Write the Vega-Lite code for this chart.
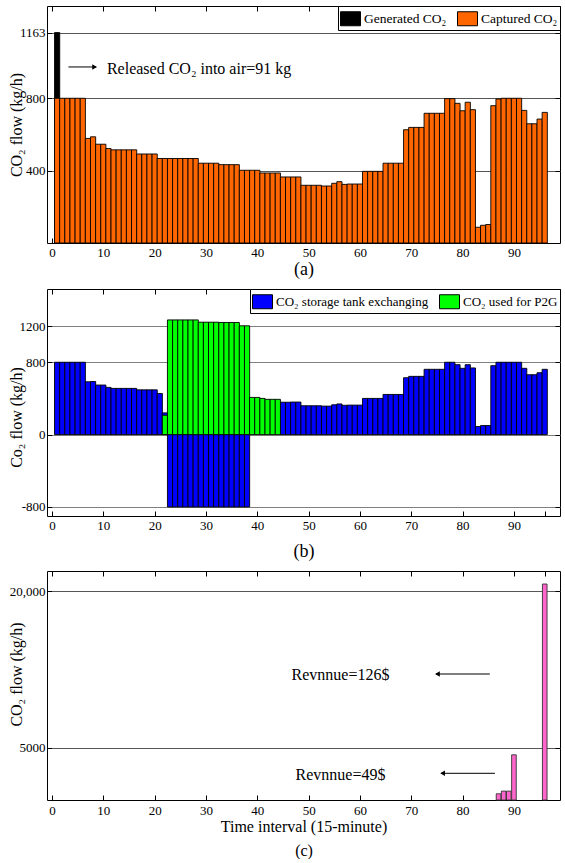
{
  "$schema": "https://vega.github.io/schema/vega-lite/v6.json",
  "padding": {"left": 7, "top": 5, "right": 0, "bottom": 0},
  "spacing": 9,
  "config": {
    "font": "Liberation Serif",
    "style": {"guide-label": {"font": "Liberation Serif"}, "guide-title": {"font": "Liberation Serif"}},
    "view": {"stroke": "black", "strokeWidth": 1},
    "axis": {"labelFont": "Liberation Serif", "titleFont": "Liberation Serif", "labelColor": "black", "titleColor": "black", "domain": false, "tickColor": "black", "tickSize": 5, "offset": -5, "labelFontSize": 13, "titleFontSize": 16, "titleFontWeight": "normal", "gridColor": "#555555", "gridOpacity": 1, "gridWidth": 1},
    "legend": {"labelFont": "Liberation Serif", "labelColor": "black", "orient": "top-right", "offset": 0, "direction": "horizontal", "title": null, "strokeColor": "black", "fillColor": "white", "padding": 2, "symbolType": "M-1,-0.7H1V0.7H-1Z", "symbolSize": 400, "symbolStrokeColor": "black", "symbolStrokeWidth": 1, "symbolOpacity": 1, "columnPadding": 8, "labelOffset": 3, "cornerRadius": 0}
  },
  "datasets": {
    "a": [
      {"t": 1, "series": "Generated CO₂", "v": 1163},
      {"t": 1, "series": "Captured CO₂", "v": 800}, {"t": 2, "series": "Captured CO₂", "v": 800}, {"t": 3, "series": "Captured CO₂", "v": 800}, {"t": 4, "series": "Captured CO₂", "v": 800}, {"t": 5, "series": "Captured CO₂", "v": 800}, {"t": 6, "series": "Captured CO₂", "v": 800},
      {"t": 7, "series": "Captured CO₂", "v": 578}, {"t": 8, "series": "Captured CO₂", "v": 587}, {"t": 9, "series": "Captured CO₂", "v": 546}, {"t": 10, "series": "Captured CO₂", "v": 546},
      {"t": 11, "series": "Captured CO₂", "v": 522}, {"t": 12, "series": "Captured CO₂", "v": 515}, {"t": 13, "series": "Captured CO₂", "v": 515}, {"t": 14, "series": "Captured CO₂", "v": 515}, {"t": 15, "series": "Captured CO₂", "v": 515}, {"t": 16, "series": "Captured CO₂", "v": 515},
      {"t": 17, "series": "Captured CO₂", "v": 492}, {"t": 18, "series": "Captured CO₂", "v": 492}, {"t": 19, "series": "Captured CO₂", "v": 492}, {"t": 20, "series": "Captured CO₂", "v": 492},
      {"t": 21, "series": "Captured CO₂", "v": 467}, {"t": 22, "series": "Captured CO₂", "v": 467}, {"t": 23, "series": "Captured CO₂", "v": 467}, {"t": 24, "series": "Captured CO₂", "v": 467}, {"t": 25, "series": "Captured CO₂", "v": 467}, {"t": 26, "series": "Captured CO₂", "v": 467}, {"t": 27, "series": "Captured CO₂", "v": 467}, {"t": 28, "series": "Captured CO₂", "v": 467},
      {"t": 29, "series": "Captured CO₂", "v": 441}, {"t": 30, "series": "Captured CO₂", "v": 441}, {"t": 31, "series": "Captured CO₂", "v": 441}, {"t": 32, "series": "Captured CO₂", "v": 441},
      {"t": 33, "series": "Captured CO₂", "v": 433}, {"t": 34, "series": "Captured CO₂", "v": 433}, {"t": 35, "series": "Captured CO₂", "v": 433}, {"t": 36, "series": "Captured CO₂", "v": 433},
      {"t": 37, "series": "Captured CO₂", "v": 402}, {"t": 38, "series": "Captured CO₂", "v": 402}, {"t": 39, "series": "Captured CO₂", "v": 402}, {"t": 40, "series": "Captured CO₂", "v": 402},
      {"t": 41, "series": "Captured CO₂", "v": 387}, {"t": 42, "series": "Captured CO₂", "v": 387}, {"t": 43, "series": "Captured CO₂", "v": 387}, {"t": 44, "series": "Captured CO₂", "v": 387},
      {"t": 45, "series": "Captured CO₂", "v": 365}, {"t": 46, "series": "Captured CO₂", "v": 365}, {"t": 47, "series": "Captured CO₂", "v": 365}, {"t": 48, "series": "Captured CO₂", "v": 365},
      {"t": 49, "series": "Captured CO₂", "v": 319}, {"t": 50, "series": "Captured CO₂", "v": 319}, {"t": 51, "series": "Captured CO₂", "v": 319}, {"t": 52, "series": "Captured CO₂", "v": 319},
      {"t": 53, "series": "Captured CO₂", "v": 315}, {"t": 54, "series": "Captured CO₂", "v": 315}, {"t": 55, "series": "Captured CO₂", "v": 330}, {"t": 56, "series": "Captured CO₂", "v": 339}, {"t": 57, "series": "Captured CO₂", "v": 324},
      {"t": 58, "series": "Captured CO₂", "v": 326}, {"t": 59, "series": "Captured CO₂", "v": 326}, {"t": 60, "series": "Captured CO₂", "v": 326},
      {"t": 61, "series": "Captured CO₂", "v": 396}, {"t": 62, "series": "Captured CO₂", "v": 396}, {"t": 63, "series": "Captured CO₂", "v": 396}, {"t": 64, "series": "Captured CO₂", "v": 396},
      {"t": 65, "series": "Captured CO₂", "v": 441}, {"t": 66, "series": "Captured CO₂", "v": 441}, {"t": 67, "series": "Captured CO₂", "v": 441}, {"t": 68, "series": "Captured CO₂", "v": 441},
      {"t": 69, "series": "Captured CO₂", "v": 626}, {"t": 70, "series": "Captured CO₂", "v": 639}, {"t": 71, "series": "Captured CO₂", "v": 639}, {"t": 72, "series": "Captured CO₂", "v": 639},
      {"t": 73, "series": "Captured CO₂", "v": 717}, {"t": 74, "series": "Captured CO₂", "v": 717}, {"t": 75, "series": "Captured CO₂", "v": 717}, {"t": 76, "series": "Captured CO₂", "v": 717},
      {"t": 77, "series": "Captured CO₂", "v": 798}, {"t": 78, "series": "Captured CO₂", "v": 798}, {"t": 79, "series": "Captured CO₂", "v": 772}, {"t": 80, "series": "Captured CO₂", "v": 731}, {"t": 81, "series": "Captured CO₂", "v": 778}, {"t": 82, "series": "Captured CO₂", "v": 737},
      {"t": 83, "series": "Captured CO₂", "v": 87}, {"t": 84, "series": "Captured CO₂", "v": 98}, {"t": 85, "series": "Captured CO₂", "v": 102}, {"t": 86, "series": "Captured CO₂", "v": 759}, {"t": 87, "series": "Captured CO₂", "v": 796},
      {"t": 88, "series": "Captured CO₂", "v": 800}, {"t": 89, "series": "Captured CO₂", "v": 800}, {"t": 90, "series": "Captured CO₂", "v": 800}, {"t": 91, "series": "Captured CO₂", "v": 800},
      {"t": 92, "series": "Captured CO₂", "v": 733}, {"t": 93, "series": "Captured CO₂", "v": 659}, {"t": 94, "series": "Captured CO₂", "v": 659}, {"t": 95, "series": "Captured CO₂", "v": 685}, {"t": 96, "series": "Captured CO₂", "v": 722}
    ],
    "b": [
      {"t": 1, "s": "CO₂ storage tank exchanging", "v": 800}, {"t": 2, "s": "CO₂ storage tank exchanging", "v": 800}, {"t": 3, "s": "CO₂ storage tank exchanging", "v": 800}, {"t": 4, "s": "CO₂ storage tank exchanging", "v": 800}, {"t": 5, "s": "CO₂ storage tank exchanging", "v": 800}, {"t": 6, "s": "CO₂ storage tank exchanging", "v": 800},
      {"t": 7, "s": "CO₂ storage tank exchanging", "v": 584}, {"t": 8, "s": "CO₂ storage tank exchanging", "v": 587}, {"t": 9, "s": "CO₂ storage tank exchanging", "v": 548}, {"t": 10, "s": "CO₂ storage tank exchanging", "v": 548},
      {"t": 11, "s": "CO₂ storage tank exchanging", "v": 522}, {"t": 12, "s": "CO₂ storage tank exchanging", "v": 511}, {"t": 13, "s": "CO₂ storage tank exchanging", "v": 511}, {"t": 14, "s": "CO₂ storage tank exchanging", "v": 511}, {"t": 15, "s": "CO₂ storage tank exchanging", "v": 511}, {"t": 16, "s": "CO₂ storage tank exchanging", "v": 511},
      {"t": 17, "s": "CO₂ storage tank exchanging", "v": 495}, {"t": 18, "s": "CO₂ storage tank exchanging", "v": 495}, {"t": 19, "s": "CO₂ storage tank exchanging", "v": 495}, {"t": 20, "s": "CO₂ storage tank exchanging", "v": 495},
      {"t": 21, "s": "CO₂ storage tank exchanging", "v": 455}, {"t": 22, "s": "CO₂ storage tank exchanging", "v": 240},
      {"t": 23, "s": "CO₂ storage tank exchanging", "v": -800}, {"t": 24, "s": "CO₂ storage tank exchanging", "v": -800}, {"t": 25, "s": "CO₂ storage tank exchanging", "v": -800}, {"t": 26, "s": "CO₂ storage tank exchanging", "v": -800}, {"t": 27, "s": "CO₂ storage tank exchanging", "v": -800}, {"t": 28, "s": "CO₂ storage tank exchanging", "v": -800}, {"t": 29, "s": "CO₂ storage tank exchanging", "v": -800}, {"t": 30, "s": "CO₂ storage tank exchanging", "v": -800},
      {"t": 31, "s": "CO₂ storage tank exchanging", "v": -800}, {"t": 32, "s": "CO₂ storage tank exchanging", "v": -800}, {"t": 33, "s": "CO₂ storage tank exchanging", "v": -800}, {"t": 34, "s": "CO₂ storage tank exchanging", "v": -800}, {"t": 35, "s": "CO₂ storage tank exchanging", "v": -800}, {"t": 36, "s": "CO₂ storage tank exchanging", "v": -800}, {"t": 37, "s": "CO₂ storage tank exchanging", "v": -800}, {"t": 38, "s": "CO₂ storage tank exchanging", "v": -800},
      {"t": 45, "s": "CO₂ storage tank exchanging", "v": 358}, {"t": 46, "s": "CO₂ storage tank exchanging", "v": 358}, {"t": 47, "s": "CO₂ storage tank exchanging", "v": 360}, {"t": 48, "s": "CO₂ storage tank exchanging", "v": 360},
      {"t": 49, "s": "CO₂ storage tank exchanging", "v": 319}, {"t": 50, "s": "CO₂ storage tank exchanging", "v": 319}, {"t": 51, "s": "CO₂ storage tank exchanging", "v": 319}, {"t": 52, "s": "CO₂ storage tank exchanging", "v": 319},
      {"t": 53, "s": "CO₂ storage tank exchanging", "v": 315}, {"t": 54, "s": "CO₂ storage tank exchanging", "v": 315}, {"t": 55, "s": "CO₂ storage tank exchanging", "v": 330}, {"t": 56, "s": "CO₂ storage tank exchanging", "v": 339}, {"t": 57, "s": "CO₂ storage tank exchanging", "v": 324},
      {"t": 58, "s": "CO₂ storage tank exchanging", "v": 326}, {"t": 59, "s": "CO₂ storage tank exchanging", "v": 326}, {"t": 60, "s": "CO₂ storage tank exchanging", "v": 326},
      {"t": 61, "s": "CO₂ storage tank exchanging", "v": 400}, {"t": 62, "s": "CO₂ storage tank exchanging", "v": 400}, {"t": 63, "s": "CO₂ storage tank exchanging", "v": 400}, {"t": 64, "s": "CO₂ storage tank exchanging", "v": 400},
      {"t": 65, "s": "CO₂ storage tank exchanging", "v": 444}, {"t": 66, "s": "CO₂ storage tank exchanging", "v": 444}, {"t": 67, "s": "CO₂ storage tank exchanging", "v": 444}, {"t": 68, "s": "CO₂ storage tank exchanging", "v": 444},
      {"t": 69, "s": "CO₂ storage tank exchanging", "v": 629}, {"t": 70, "s": "CO₂ storage tank exchanging", "v": 644}, {"t": 71, "s": "CO₂ storage tank exchanging", "v": 644}, {"t": 72, "s": "CO₂ storage tank exchanging", "v": 644},
      {"t": 73, "s": "CO₂ storage tank exchanging", "v": 722}, {"t": 74, "s": "CO₂ storage tank exchanging", "v": 722}, {"t": 75, "s": "CO₂ storage tank exchanging", "v": 722}, {"t": 76, "s": "CO₂ storage tank exchanging", "v": 722},
      {"t": 77, "s": "CO₂ storage tank exchanging", "v": 800}, {"t": 78, "s": "CO₂ storage tank exchanging", "v": 800}, {"t": 79, "s": "CO₂ storage tank exchanging", "v": 773}, {"t": 80, "s": "CO₂ storage tank exchanging", "v": 733}, {"t": 81, "s": "CO₂ storage tank exchanging", "v": 773}, {"t": 82, "s": "CO₂ storage tank exchanging", "v": 737},
      {"t": 83, "s": "CO₂ storage tank exchanging", "v": 89}, {"t": 84, "s": "CO₂ storage tank exchanging", "v": 100}, {"t": 85, "s": "CO₂ storage tank exchanging", "v": 100}, {"t": 86, "s": "CO₂ storage tank exchanging", "v": 762}, {"t": 87, "s": "CO₂ storage tank exchanging", "v": 800},
      {"t": 88, "s": "CO₂ storage tank exchanging", "v": 800}, {"t": 89, "s": "CO₂ storage tank exchanging", "v": 800}, {"t": 90, "s": "CO₂ storage tank exchanging", "v": 800}, {"t": 91, "s": "CO₂ storage tank exchanging", "v": 800},
      {"t": 92, "s": "CO₂ storage tank exchanging", "v": 733}, {"t": 93, "s": "CO₂ storage tank exchanging", "v": 662}, {"t": 94, "s": "CO₂ storage tank exchanging", "v": 662}, {"t": 95, "s": "CO₂ storage tank exchanging", "v": 684}, {"t": 96, "s": "CO₂ storage tank exchanging", "v": 722},
      {"t": 22, "s": "CO₂ used for P2G", "v": 214},
      {"t": 23, "s": "CO₂ used for P2G", "v": 1268}, {"t": 24, "s": "CO₂ used for P2G", "v": 1268}, {"t": 25, "s": "CO₂ used for P2G", "v": 1268}, {"t": 26, "s": "CO₂ used for P2G", "v": 1268}, {"t": 27, "s": "CO₂ used for P2G", "v": 1268}, {"t": 28, "s": "CO₂ used for P2G", "v": 1268},
      {"t": 29, "s": "CO₂ used for P2G", "v": 1243}, {"t": 30, "s": "CO₂ used for P2G", "v": 1243}, {"t": 31, "s": "CO₂ used for P2G", "v": 1243}, {"t": 32, "s": "CO₂ used for P2G", "v": 1243}, {"t": 33, "s": "CO₂ used for P2G", "v": 1240}, {"t": 34, "s": "CO₂ used for P2G", "v": 1240}, {"t": 35, "s": "CO₂ used for P2G", "v": 1240}, {"t": 36, "s": "CO₂ used for P2G", "v": 1240},
      {"t": 37, "s": "CO₂ used for P2G", "v": 1203}, {"t": 38, "s": "CO₂ used for P2G", "v": 1203},
      {"t": 39, "s": "CO₂ used for P2G", "v": 411}, {"t": 40, "s": "CO₂ used for P2G", "v": 411}, {"t": 41, "s": "CO₂ used for P2G", "v": 400}, {"t": 42, "s": "CO₂ used for P2G", "v": 390}, {"t": 43, "s": "CO₂ used for P2G", "v": 390}, {"t": 44, "s": "CO₂ used for P2G", "v": 390}
    ],
    "c": [
      {"t": 87, "v": 595}, {"t": 88, "v": 852}, {"t": 89, "v": 852}, {"t": 90, "v": 4330}, {"t": 96, "v": 20700}
    ],
    "arrA": [{"t": 3.2, "t2": 8.6, "v": 973}],
    "headA": [{"t": 8.3, "v": 973}],
    "txtA": [{"t": 10.7, "v": 936, "label": "Released CO₂ into air=91 kg"}],
    "arrC": [{"t": 74.8, "t2": 85.3, "v": 12077}, {"t": 75.8, "t2": 86.3, "v": 2559}],
    "headC": [{"t": 75.1, "v": 12077}, {"t": 76.1, "v": 2559}],
    "txtC": [{"t": 56.2, "v": 11503, "label": "Revnnue=126$"}, {"t": 56.2, "v": 1917, "label": "Revnnue=49$"}]
  },
  "vconcat": [
    {
      "width": 513, "height": 237,
      "layer": [
        {
          "data": {"name": "a"},
          "mark": {"type": "bar", "size": 5.2, "stroke": "black", "strokeWidth": 0.9},
          "encoding": {
            "x": {"field": "t", "type": "quantitative", "scale": {"domain": [0, 98], "nice": false, "zero": false},
                  "axis": {"orient": "bottom", "values": [0, 10, 20, 30, 40, 50, 60, 70, 80, 90, 96], "labelExpr": "datum.value == 96 ? '' : '' + datum.value", "grid": false, "title": "(a)", "titleFontSize": 18, "labelPadding": 3, "titlePadding": 1}},
            "y": {"field": "v", "type": "quantitative", "stack": null, "scale": {"domain": [0, 1310], "nice": false},
                  "axis": {"orient": "left", "values": [400, 800, 1163], "grid": true, "labelExpr": "'' + datum.value", "title": "CO₂ flow (kg/h)", "labelPadding": 2, "titleX": -36, "titleBaseline": "middle"}},
            "color": {"field": "series", "type": "nominal", "scale": {"domain": ["Generated CO₂", "Captured CO₂"], "range": ["#000000", "#FF6600"]},
                      "legend": {"labelFontSize": 13.5}}
          }
        },
        {
          "data": {"name": "arrA"},
          "mark": {"type": "rule", "color": "black", "strokeWidth": 1},
          "encoding": {
            "x": {"field": "t", "type": "quantitative", "axis": {"orient": "top", "values": [0, 10, 20, 30, 40, 50, 60, 70, 80, 90, 96], "labels": false, "grid": false, "title": null}},
            "x2": {"field": "t2"},
            "y": {"field": "v", "type": "quantitative", "axis": {"orient": "right", "values": [400, 800, 1163], "labels": false, "grid": false, "title": null}}
          }
        },
        {
          "data": {"name": "headA"},
          "mark": {"type": "point", "shape": "triangle-right", "filled": true, "color": "black", "size": 30, "opacity": 1},
          "encoding": {"x": {"field": "t", "type": "quantitative", "axis": null}, "y": {"field": "v", "type": "quantitative", "axis": null}}
        },
        {
          "data": {"name": "txtA"},
          "mark": {"type": "text", "align": "left", "baseline": "alphabetic", "fontSize": 16, "font": "Liberation Serif", "color": "black"},
          "encoding": {"x": {"field": "t", "type": "quantitative", "axis": null}, "y": {"field": "v", "type": "quantitative", "axis": null}, "text": {"field": "label"}}
        }
      ],
      "resolve": {"axis": {"x": "independent", "y": "independent"}}
    },
    {
      "width": 513, "height": 227,
      "layer": [
        {
          "data": {"name": "b"},
          "mark": {"type": "bar", "size": 5.2, "stroke": "black", "strokeWidth": 0.9},
          "encoding": {
            "x": {"field": "t", "type": "quantitative", "scale": {"domain": [0, 98], "nice": false, "zero": false},
                  "axis": {"orient": "bottom", "values": [0, 10, 20, 30, 40, 50, 60, 70, 80, 90, 96], "labelExpr": "datum.value == 96 ? '' : '' + datum.value", "grid": false, "title": "(b)", "titleFontSize": 18, "labelPadding": 3, "titlePadding": 10}},
            "y": {"field": "v", "type": "quantitative", "stack": null, "scale": {"domain": [-900, 1610], "nice": false},
                  "axis": {"orient": "left", "values": [-800, 0, 800, 1200], "grid": true, "gridColor": "#808080", "labelExpr": "'' + datum.value", "title": "Co₂ flow (kg/h)", "labelPadding": 2, "titleX": -36, "titleY": 128, "titleBaseline": "middle"}},
            "color": {"field": "s", "type": "nominal", "scale": {"domain": ["CO₂ storage tank exchanging", "CO₂ used for P2G"], "range": ["#0000FF", "#00FF00"]},
                      "legend": {"labelFontSize": 13}}
          }
        },
        {
          "data": {"name": "b"},
          "mark": {"type": "point", "opacity": 0, "size": 1},
          "encoding": {
            "x": {"field": "t", "type": "quantitative", "axis": {"orient": "top", "values": [0, 10, 20, 30, 40, 50, 60, 70, 80, 90, 96], "labels": false, "grid": false, "title": null}},
            "y": {"field": "v", "type": "quantitative", "axis": {"orient": "right", "values": [-800, 0, 800, 1200], "labels": false, "grid": false, "title": null}}
          }
        }
      ],
      "resolve": {"axis": {"x": "independent", "y": "independent"}}
    },
    {
      "width": 513, "height": 229,
      "layer": [
        {
          "data": {"name": "c"},
          "mark": {"type": "bar", "size": 4.6, "stroke": "#333333", "strokeWidth": 0.9, "color": "#FF66CC"},
          "encoding": {
            "x": {"field": "t", "type": "quantitative", "scale": {"domain": [0, 98], "nice": false, "zero": false},
                  "axis": {"orient": "bottom", "values": [0, 10, 20, 30, 40, 50, 60, 70, 80, 90, 96], "labelExpr": "datum.value == 96 ? '' : '' + datum.value", "grid": false, "title": ["Time interval (15-minute)", "(c)"], "titleFontSize": 16, "titleLineHeight": 24, "labelPadding": 4, "titlePadding": 1}},
            "y": {"field": "v", "type": "quantitative", "scale": {"domain": [0, 21950], "nice": false},
                  "axis": {"orient": "left", "values": [5000, 20000], "grid": true, "gridColor": "#555555", "labelExpr": "datum.value == 20000 ? '20,000' : '' + datum.value", "title": "CO₂ flow (kg/h)", "labelPadding": 2, "titleX": -36, "titleY": 103, "titleBaseline": "middle"}}
          }
        },
        {
          "data": {"name": "arrC"},
          "mark": {"type": "rule", "color": "black", "strokeWidth": 1},
          "encoding": {
            "x": {"field": "t", "type": "quantitative", "axis": {"orient": "top", "values": [0, 10, 20, 30, 40, 50, 60, 70, 80, 90, 96], "labels": false, "grid": false, "title": null}},
            "x2": {"field": "t2"},
            "y": {"field": "v", "type": "quantitative", "axis": {"orient": "right", "values": [5000, 20000], "labels": false, "grid": false, "title": null}}
          }
        },
        {
          "data": {"name": "headC"},
          "mark": {"type": "point", "shape": "triangle-left", "filled": true, "color": "black", "size": 30, "opacity": 1},
          "encoding": {"x": {"field": "t", "type": "quantitative", "axis": null}, "y": {"field": "v", "type": "quantitative", "axis": null}}
        },
        {
          "data": {"name": "txtC"},
          "mark": {"type": "text", "align": "center", "baseline": "alphabetic", "fontSize": 16, "font": "Liberation Serif", "color": "black"},
          "encoding": {"x": {"field": "t", "type": "quantitative", "axis": null}, "y": {"field": "v", "type": "quantitative", "axis": null}, "text": {"field": "label"}}
        }
      ],
      "resolve": {"axis": {"x": "independent", "y": "independent"}}
    }
  ],
  "resolve": {"scale": {"color": "independent", "x": "independent", "y": "independent"}, "legend": {"color": "independent"}}
}
